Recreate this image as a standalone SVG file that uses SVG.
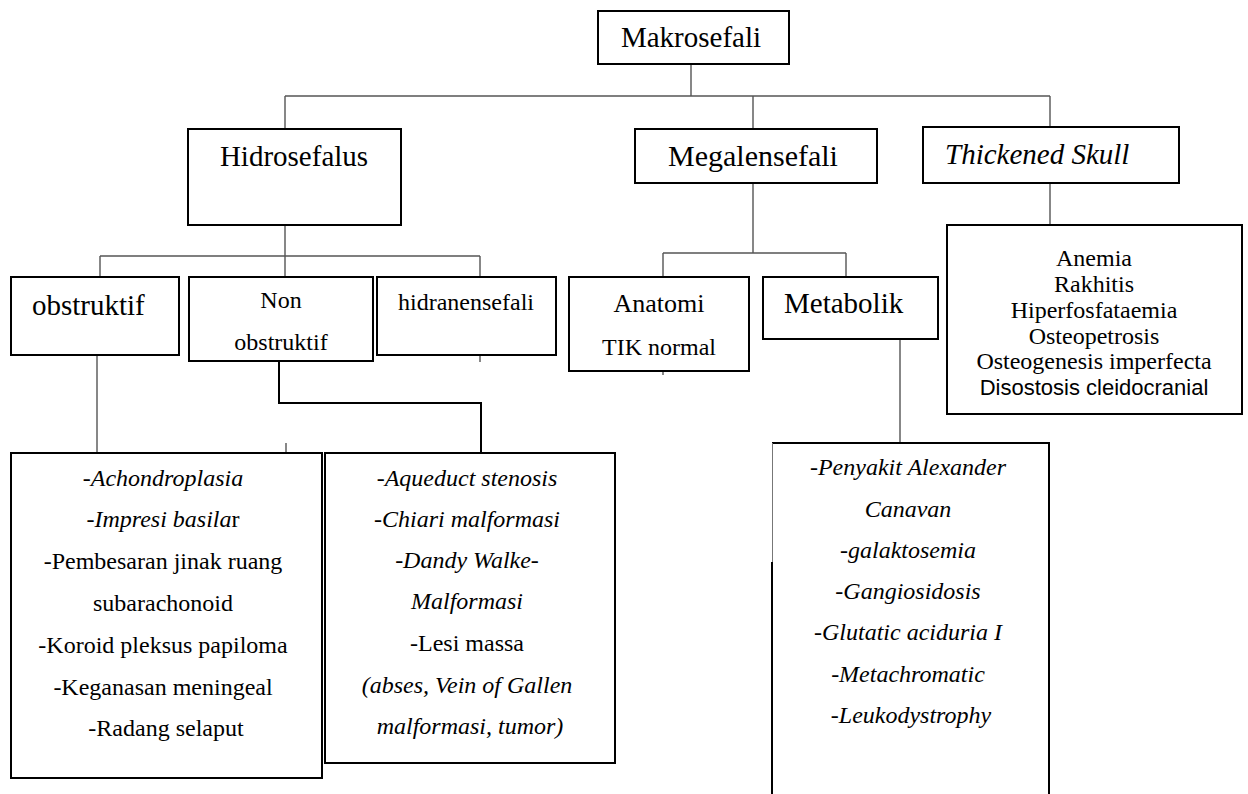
<svg xmlns="http://www.w3.org/2000/svg" width="1248" height="794" viewBox="0 0 1248 794">
<style>
.box{fill:#fff;stroke:#000;stroke-width:2}
.conn{stroke:#555;stroke-width:1.4;fill:none}
.conn2{stroke:#000;stroke-width:2;fill:none}
.t{font-family:"Liberation Serif","Times New Roman",Tinos,"DejaVu Serif","Noto Serif",serif;fill:#000}
.s{font-family:"Liberation Sans",Arial,sans-serif;fill:#000}
.c{text-anchor:middle}
.i{font-style:italic}
.n{font-style:normal}
</style>
<rect width="1248" height="794" fill="#fff"/>
<g id="connectors">
<path class="conn" d="M691 64V96M285 96H1050M285 96V129M753 96V129M1050 96V127"/>
<path class="conn" d="M285 225V277M100 256H480M100 256V277M480 256V277M480 355V362"/>
<path class="conn" d="M753 183V253M663 253H846M663 253V277M846 253V277M663 371V375"/>
<path class="conn" d="M1050 183V225M97 355V453M286 443V453M900 339V443"/>
<path class="conn2" d="M279 361V403H481V453"/>
</g>
<g id="makrosefali">
<rect class="box" x="598" y="11" width="191" height="53"/>
<text class="t c" x="691" y="47" font-size="29">Makrosefali</text>
</g>
<g id="hidrosefalus">
<rect class="box" x="188" y="129" width="213" height="96"/>
<text class="t c" x="294" y="166" font-size="29">Hidrosefalus</text>
</g>
<g id="megalensefali">
<rect class="box" x="635" y="129" width="242" height="54"/>
<text class="t c" x="753" y="166" font-size="30">Megalensefali</text>
</g>
<g id="thickened-skull">
<rect class="box" x="923" y="127" width="256" height="56"/>
<text class="t i" x="945" y="164" font-size="29">Thickened Skull</text>
</g>
<g id="thickened-list">
<rect class="box" x="947" y="225" width="295" height="189"/>
<text class="t c" font-size="24"><tspan x="1094" y="266">Anemia</tspan><tspan x="1094" y="292">Rakhitis</tspan><tspan x="1094" y="318">Hiperfosfataemia</tspan><tspan x="1094" y="344">Osteopetrosis</tspan><tspan x="1094" y="369">Osteogenesis imperfecta</tspan></text>
<text class="s c" x="1094" y="395" font-size="22">Disostosis cleidocranial</text>
</g>
<g id="obstruktif">
<rect class="box" x="11" y="277" width="168" height="78"/>
<text class="t" x="32" y="315" font-size="29">obstruktif</text>
</g>
<g id="non-obstruktif">
<rect class="box" x="189" y="277" width="184" height="84"/>
<text class="t c" font-size="24"><tspan x="281" y="308">Non</tspan><tspan x="281" y="350">obstruktif</tspan></text>
</g>
<g id="hidranensefali">
<rect class="box" x="377" y="277" width="179" height="78"/>
<text class="t c" x="466" y="310" font-size="24">hidranensefali</text>
</g>
<g id="anatomi">
<rect class="box" x="569" y="277" width="180" height="94"/>
<text class="t c" x="659" y="312" font-size="26">Anatomi</text>
<text class="t c" x="659" y="355" font-size="24">TIK normal</text>
</g>
<g id="metabolik">
<rect class="box" x="763" y="277" width="175" height="62"/>
<text class="t" x="784" y="313" font-size="29">Metabolik</text>
</g>
<g id="obstruktif-list">
<rect class="box" x="11" y="453" width="311" height="325"/>
<text class="t c" font-size="24">
<tspan class="i" x="166" y="486">-Achondroplasia</tspan>
<tspan x="166" y="527"><tspan class="i">-Impresi basila</tspan>r</tspan>
<tspan x="166" y="569">-Pembesaran jinak ruang</tspan>
<tspan x="166" y="611">subarachonoid</tspan>
<tspan x="166" y="653">-Koroid pleksus papiloma</tspan>
<tspan x="166" y="695">-Keganasan meningeal</tspan>
<tspan x="166" y="736">-Radang selaput</tspan>
</text>
</g>
<g id="non-obstruktif-list">
<rect class="box" x="325" y="453" width="290" height="310"/>
<text class="t c i" font-size="24">
<tspan x="470" y="486">-Aqueduct stenosis</tspan>
<tspan x="470" y="527">-Chiari malformasi</tspan>
<tspan x="470" y="568">-Dandy Walke-</tspan>
<tspan x="470" y="609">Malformasi</tspan>
<tspan class="n" x="470" y="651">-Lesi massa</tspan>
<tspan x="470" y="693">(abses, Vein of Gallen</tspan>
<tspan x="470" y="734">malformasi, tumor)</tspan>
</text>
</g>
<g id="metabolik-list">
<rect x="772" y="443" width="277" height="360" fill="#fff"/>
<path d="M772 443H1049V794" fill="none" stroke="#000" stroke-width="2"/>
<path d="M772.5 443V562" fill="none" stroke="#777" stroke-width="1"/>
<path d="M772 562V794" fill="none" stroke="#000" stroke-width="2"/>
<text class="t c i" font-size="24">
<tspan x="911" y="475">-Penyakit Alexander</tspan>
<tspan x="911" y="517">Canavan</tspan>
<tspan x="911" y="558">-galaktosemia</tspan>
<tspan x="911" y="599">-Gangiosidosis</tspan>
<tspan x="911" y="640">-Glutatic aciduria I</tspan>
<tspan x="911" y="682">-Metachromatic</tspan>
<tspan x="911" y="723">-Leukodystrophy</tspan>
</text>
</g>
</svg>
